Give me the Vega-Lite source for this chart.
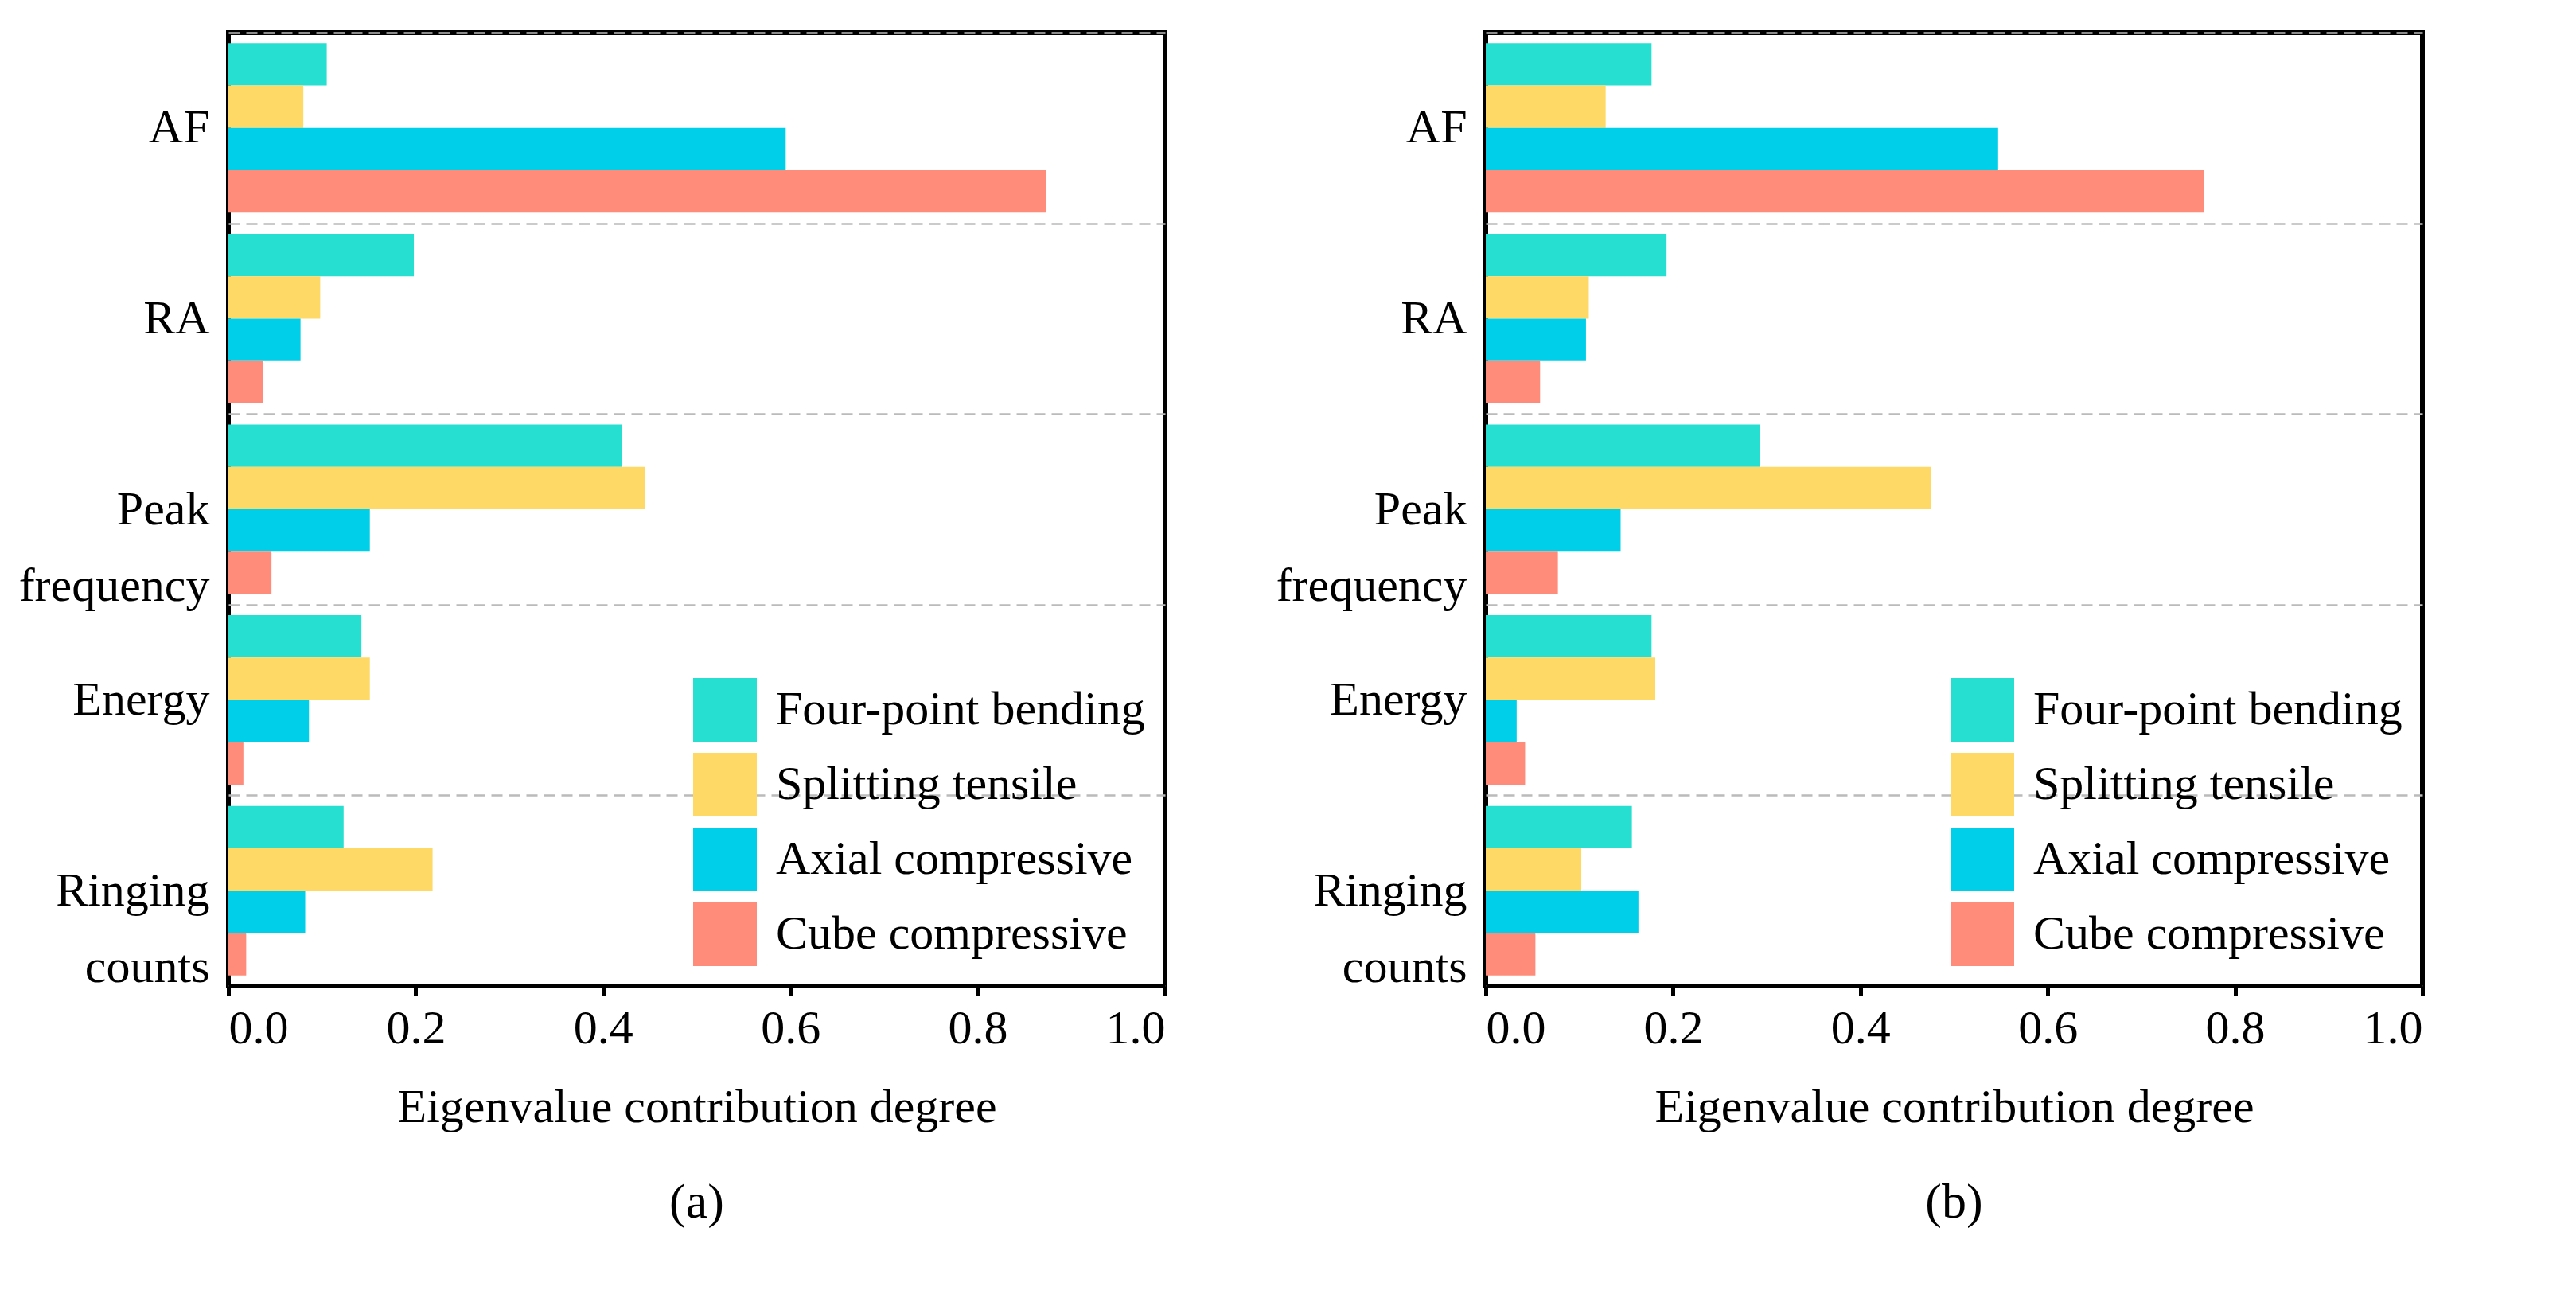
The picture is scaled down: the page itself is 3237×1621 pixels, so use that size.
{
  "$schema": "https://vega.github.io/schema/vega-lite/v6.json",
  "background": "white",
  "padding": {"left": 20, "top": 8, "right": 30, "bottom": 10},
  "data": {"values": [
    {"p":"a","f":"AF","s":"Four-point bending","v":0.105},
    {"p":"a","f":"AF","s":"Splitting tensile","v":0.08},
    {"p":"a","f":"AF","s":"Axial compressive","v":0.595},
    {"p":"a","f":"AF","s":"Cube compressive","v":0.873},
    {"p":"a","f":"RA","s":"Four-point bending","v":0.198},
    {"p":"a","f":"RA","s":"Splitting tensile","v":0.098},
    {"p":"a","f":"RA","s":"Axial compressive","v":0.077},
    {"p":"a","f":"RA","s":"Cube compressive","v":0.037},
    {"p":"a","f":"Peak frequency","s":"Four-point bending","v":0.42},
    {"p":"a","f":"Peak frequency","s":"Splitting tensile","v":0.445},
    {"p":"a","f":"Peak frequency","s":"Axial compressive","v":0.151},
    {"p":"a","f":"Peak frequency","s":"Cube compressive","v":0.046},
    {"p":"a","f":"Energy","s":"Four-point bending","v":0.142},
    {"p":"a","f":"Energy","s":"Splitting tensile","v":0.151},
    {"p":"a","f":"Energy","s":"Axial compressive","v":0.086},
    {"p":"a","f":"Energy","s":"Cube compressive","v":0.016},
    {"p":"a","f":"Ringing counts","s":"Four-point bending","v":0.123},
    {"p":"a","f":"Ringing counts","s":"Splitting tensile","v":0.218},
    {"p":"a","f":"Ringing counts","s":"Axial compressive","v":0.082},
    {"p":"a","f":"Ringing counts","s":"Cube compressive","v":0.019},
    {"p":"b","f":"AF","s":"Four-point bending","v":0.177},
    {"p":"b","f":"AF","s":"Splitting tensile","v":0.128},
    {"p":"b","f":"AF","s":"Axial compressive","v":0.547},
    {"p":"b","f":"AF","s":"Cube compressive","v":0.767},
    {"p":"b","f":"RA","s":"Four-point bending","v":0.193},
    {"p":"b","f":"RA","s":"Splitting tensile","v":0.11},
    {"p":"b","f":"RA","s":"Axial compressive","v":0.107},
    {"p":"b","f":"RA","s":"Cube compressive","v":0.058},
    {"p":"b","f":"Peak frequency","s":"Four-point bending","v":0.293},
    {"p":"b","f":"Peak frequency","s":"Splitting tensile","v":0.475},
    {"p":"b","f":"Peak frequency","s":"Axial compressive","v":0.144},
    {"p":"b","f":"Peak frequency","s":"Cube compressive","v":0.077},
    {"p":"b","f":"Energy","s":"Four-point bending","v":0.177},
    {"p":"b","f":"Energy","s":"Splitting tensile","v":0.181},
    {"p":"b","f":"Energy","s":"Axial compressive","v":0.033},
    {"p":"b","f":"Energy","s":"Cube compressive","v":0.042},
    {"p":"b","f":"Ringing counts","s":"Four-point bending","v":0.156},
    {"p":"b","f":"Ringing counts","s":"Splitting tensile","v":0.102},
    {"p":"b","f":"Ringing counts","s":"Axial compressive","v":0.163},
    {"p":"b","f":"Ringing counts","s":"Cube compressive","v":0.053}
  ]},
  "spacing": 130,
  "resolve": {"legend": {"color": "independent"}},
  "hconcat": [
    {
      "width": 1177, "height": 1198,
      "title": {"text": "(a)", "orient": "bottom", "fontSize": 62, "font": "Liberation Serif", "fontWeight": "normal", "offset": 60},
      "transform": [{"filter": "datum.p == 'a'"}],
      "mark": {"type": "bar"},
      "encoding": {
        "y": {"field": "f", "type": "nominal", "sort": ["AF","RA","Peak frequency","Energy","Ringing counts"], "title": null,
          "scale": {"paddingInner": 0, "paddingOuter": 0},
          "axis": {"labelExpr": "split(datum.label, ' ')", "grid": true, "tickBand": "extent"}},
        "yOffset": {"field": "s", "type": "nominal", "sort": ["Four-point bending","Splitting tensile","Axial compressive","Cube compressive"], "scale": {"paddingInner": 0, "paddingOuter": 0.25}},
        "x": {"field": "v", "type": "quantitative", "scale": {"domain": [0, 1]}, "title": "Eigenvalue contribution degree",
          "axis": {"values": [0,0.2,0.4,0.6,0.8,1], "format": ".1f", "grid": false}},
        "color": {"field": "s", "type": "nominal", "sort": ["Four-point bending","Splitting tensile","Axial compressive","Cube compressive"],
          "scale": {"range": ["#26dfd0","#ffd966","#00cfea","#ff8c7a"]},
          "legend": {"title": null, "orient": "bottom-right"}}
      }
    },
    {
      "width": 1177, "height": 1198,
      "title": {"text": "(b)", "orient": "bottom", "fontSize": 62, "font": "Liberation Serif", "fontWeight": "normal", "offset": 60},
      "transform": [{"filter": "datum.p == 'b'"}],
      "mark": {"type": "bar"},
      "encoding": {
        "y": {"field": "f", "type": "nominal", "sort": ["AF","RA","Peak frequency","Energy","Ringing counts"], "title": null,
          "scale": {"paddingInner": 0, "paddingOuter": 0},
          "axis": {"labelExpr": "split(datum.label, ' ')", "grid": true, "tickBand": "extent"}},
        "yOffset": {"field": "s", "type": "nominal", "sort": ["Four-point bending","Splitting tensile","Axial compressive","Cube compressive"], "scale": {"paddingInner": 0, "paddingOuter": 0.25}},
        "x": {"field": "v", "type": "quantitative", "scale": {"domain": [0, 1]}, "title": "Eigenvalue contribution degree",
          "axis": {"values": [0,0.2,0.4,0.6,0.8,1], "format": ".1f", "grid": false}},
        "color": {"field": "s", "type": "nominal", "sort": ["Four-point bending","Splitting tensile","Axial compressive","Cube compressive"],
          "scale": {"range": ["#26dfd0","#ffd966","#00cfea","#ff8c7a"]},
          "legend": {"title": null, "orient": "bottom-right"}}
      }
    }
  ],
  "config": {
    "font": "Liberation Serif",
    "view": {"stroke": "black", "strokeWidth": 6},
    "axis": {"labelFont": "Liberation Serif", "titleFont": "Liberation Serif", "labelFontSize": 60, "titleFontSize": 60,
      "titleFontWeight": "normal", "labelColor": "black", "titleColor": "black", "domainColor": "black", "domainWidth": 5,
      "tickColor": "black", "tickWidth": 5, "tickSize": 12, "labelPadding": 12, "titlePadding": 40,
      "gridColor": "#bbbbbb", "gridDash": [14, 8], "gridWidth": 2.5, "labelLineHeight": 96, "labelLimit": 0},
    "axisY": {"ticks": false, "domain": false, "labelPadding": 24},
    "legend": {"labelFont": "Liberation Serif", "labelFontSize": 60, "labelColor": "black", "symbolType": "square",
      "symbolSize": 6400, "symbolStrokeWidth": 0, "symbolOpacity": 1, "rowPadding": 14, "labelOffset": 24, "offset": 25, "labelLimit": 0}
  }
}
